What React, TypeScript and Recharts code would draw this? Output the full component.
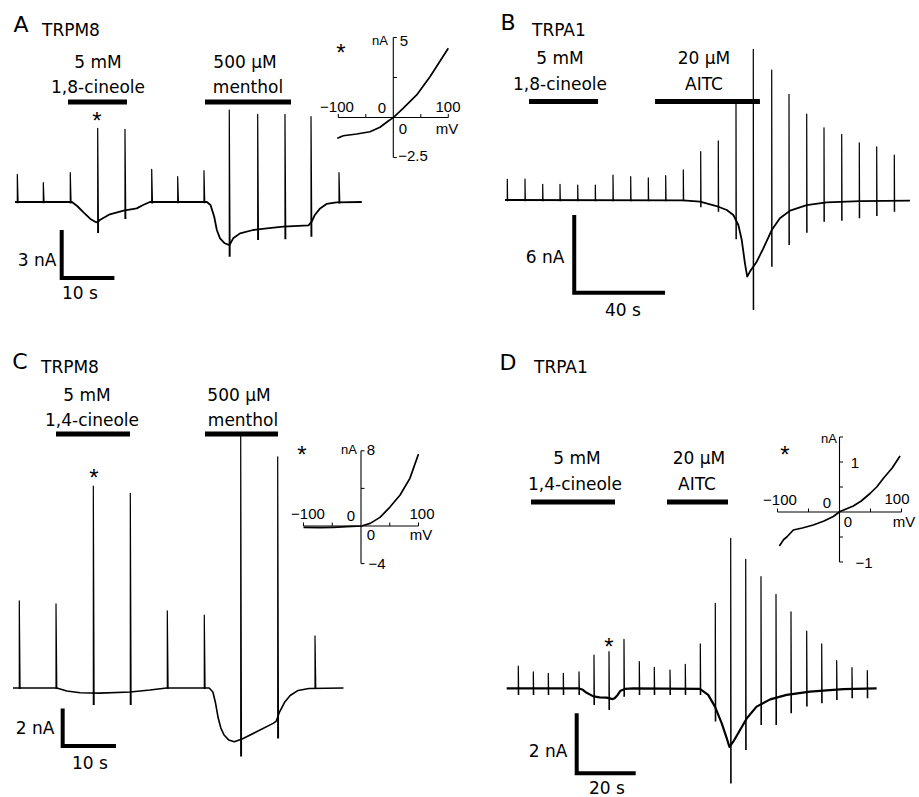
import { LineChart, Line, XAxis, YAxis } from 'recharts';

// ---------- data (time in s, current in nA, voltage in mV) ----------

// A: TRPM8, 1,8-cineole then menthol
const traceA: [number, number][] = [
  [0, 0], [10.8, 0], [11.8, -0.25], [13.0, -0.65], [14.3, -1.06], [15.3, -1.25], [15.7, -1.27],
  [16.1, -1.12], [18.0, -0.77], [20.6, -0.54], [23.1, -0.4], [24.3, -0.19], [25.6, 0],
  [36.4, 0], [37.1, -0.19], [37.8, -0.92], [38.3, -1.75], [38.9, -2.27], [39.8, -2.58], [40.7, -2.69],
  [41.4, -2.27], [42.7, -1.96], [45.2, -1.75], [47.8, -1.65], [50.9, -1.54], [55.7, -1.46],
  [56.3, -1.23], [56.9, -0.81], [57.9, -0.4], [59.1, -0.12], [61.0, -0.02], [65.8, 0],
];
const rampTimesA = [0.44, 5.37, 10.49, 15.69, 20.87, 25.94, 30.87, 35.86, 40.66, 46.05, 51.23, 56.17, 61.48];
const rampPeaksA = [1.73, 1.21, 1.83, 4.61, 4.54, 2.04, 1.58, 1.96, 5.75, 5.48, 5.48, 5.33, 1.83];
const rampTroughsA = [-0.08, -0.08, -0.1, -1.94, -1.06, -0.1, -0.08, -0.08, -3.42, -2.38, -2.33, -2.17, -0.1];
const ivA: [number, number][] = [
  [-101.8, -1.3], [-90.9, -1.14], [-66.5, -1.03], [-42.4, -0.89], [-24.2, -0.61], [-9.1, -0.22],
  [0, -0.01], [18.2, 0.58], [42.5, 1.41], [66.7, 2.55], [100, 4.33],
];

// B: TRPA1, 1,8-cineole then AITC
const traceB: [number, number][] = [
  [0, 0], [78.5, -0.03], [85.9, -0.13], [94.0, -0.52], [97.7, -0.77], [100.6, -1.16], [102.8, -1.93],
  [104.3, -3.09], [105.7, -4.89], [106.7, -5.92], [107.9, -5.53], [110.9, -4.76], [113.8, -3.73],
  [117.5, -2.32], [121.1, -1.41], [125.6, -0.82], [132.9, -0.39], [141.7, -0.18], [156.4, -0.08], [178.4, -0.05],
];
const rampTimesB = [1.01, 8.81, 16.61, 24.23, 32.03, 39.78, 47.58, 55.37, 63.13, 70.79, 78.55, 86.21,
  93.96, 101.76, 109.38, 117.49, 125.11, 132.91, 140.53, 148.33, 156.08, 163.74, 171.5];
const rampPeaksB = [1.6, 1.62, 1.21, 1.21, 1.16, 1.16, 1.93, 1.8, 1.72, 1.88, 2.32, 3.73,
  4.56, 7.61, 11.64, 10.04, 8.16, 6.64, 5.58, 5.07, 4.42, 4.11, 3.47];
const rampTroughsB = [-0.1, -0.1, -0.1, -0.1, -0.1, -0.1, -0.1, -0.1, -0.1, -0.1, -0.1, -0.56,
  -0.9, -3.03, -8.49, -5.15, -3.47, -2.53, -1.68, -1.6, -1.41, -1.24, -0.9];

// C: TRPM8, 1,4-cineole then menthol
const traceC: [number, number][] = [
  [0, 0], [8.2, 0], [10.1, -0.16], [12.6, -0.25], [16.3, -0.27], [22.0, -0.21], [25.7, -0.11], [28.8, 0],
  [36.8, 0], [37.5, -0.21], [38.0, -0.8], [38.5, -1.6], [39.0, -2.13], [39.6, -2.5], [40.5, -2.77],
  [41.5, -2.86], [43.0, -2.71], [45.6, -2.34], [48.8, -1.88], [49.4, -1.76], [50.0, -1.28], [51.0, -0.74],
  [52.0, -0.4], [53.5, -0.13], [55.5, -0.03], [62.0, 0],
];
const rampTimesC = [1.18, 8.07, 15.07, 22.01, 28.95, 35.89, 42.72, 49.66, 56.66];
const rampPeaksC = [4.64, 4.47, 10.74, 10.36, 4.11, 3.88, 13.55, 12.3, 2.77];
const rampTroughsC = [-0.05, -0.05, -0.9, -0.9, -0.05, -0.05, -3.65, -2.68, -0.05];
const ivC: [number, number][] = [
  [-100, -0.14], [-71, -0.18], [-48, -0.14], [-25, -0.07], [1, 0], [16, 0.28], [33, 0.92],
  [50, 1.99], [68, 3.3], [85, 5.07], [100, 7.66],
];

// D: TRPA1, 1,4-cineole then AITC
const traceD: [number, number][] = [
  [0, 0], [24.3, 0], [25.8, -0.05], [27.1, -0.15], [29.4, -0.27], [31.5, -0.3], [33.9, -0.31], [35.9, -0.36],
  [36.6, -0.33], [37.6, -0.22], [38.6, -0.08], [40.1, -0.02], [42.9, 0], [65.5, -0.02], [68.3, -0.22],
  [70.6, -0.61], [72.9, -1.17], [74.6, -1.67], [75.5, -1.95], [76.8, -1.78], [79.1, -1.39], [81.4, -1.0],
  [84.7, -0.61], [89.3, -0.37], [94.9, -0.22], [102.8, -0.11], [114.1, -0.03], [125.4, 0],
];
const rampTimesD = [3.93, 9.02, 14.1, 19.19, 24.51, 29.59, 34.68, 39.76, 44.95, 50.03, 55.36, 60.54,
  65.63, 70.71, 75.93, 81.02, 86.2, 91.29, 96.37, 101.69, 106.78, 111.86, 117.05, 122.24];
const rampPeaksD = [0.74, 0.55, 0.5, 0.5, 0.55, 1.11, 1.22, 1.63, 0.89, 0.7, 0.61, 0.8,
  1.48, 2.83, 5.0, 4.3, 3.72, 3.13, 2.55, 1.91, 1.48, 0.92, 0.69, 0.59];
const rampTroughsD = [-0.22, -0.22, -0.22, -0.22, -0.22, -0.56, -0.72, -0.28, -0.22, -0.22, -0.22, -0.22,
  -0.22, -1.11, -3.17, -2.06, -1.22, -1.22, -0.83, -0.61, -0.5, -0.39, -0.33, -0.33];
const ivD: [number, number][] = [
  [-97, -0.68], [-90, -0.55], [-85, -0.5], [-74.5, -0.36], [-60, -0.32], [-42.3, -0.26], [-25, -0.18],
  [-10, -0.09], [0.8, 0.01], [22.3, 0.12], [35, 0.22], [49.2, 0.37], [60, 0.5], [70.6, 0.67], [85, 0.88], [97.6, 1.12],
];

// drug applications [start s, end s]
const appsA: [number, number][] = [[10.06, 21.25], [36.05, 52.37]];
const appsB: [number, number][] = [[10.6, 41.0], [66.1, 112.3]];
const appsC: [number, number][] = [[8.07, 21.95], [36.02, 49.72]];
const appsD: [number, number][] = [[8.24, 36.71], [54.34, 75.02]];

// voltage ramp duration, s
const RAMP_S = 0.15;

// ---------- layout ----------
const FONT = '"DejaVu Sans", sans-serif';
const NUM_FONT = '"Liberation Sans", Arial, sans-serif';

type Pt = { x: number; y: number | null };
type Geo = { left: number; top: number; width: number; height: number; ox: number; kx: number; oy: number; ky: number };
type Series = { data: Pt[]; w: number; join?: 'miter' | 'round' };

const geoA: Geo = { left: 0, top: 0, width: 460, height: 320, ox: 15, kx: 5.27, oy: 202, ky: 16 };
const geoB: Geo = { left: 460, top: 0, width: 459, height: 330, ox: 505, kx: 2.27, oy: 200, ky: 12.95 };
const geoC: Geo = { left: 0, top: 330, width: 460, height: 467, ox: 13, kx: 5.33, oy: 688, ky: 18.8 };
const geoD: Geo = { left: 460, top: 330, width: 459, height: 467, ox: 506.7, kx: 2.95, oy: 688.3, ky: 30 };

const insetA: Geo = { left: 325, top: 25, width: 135, height: 145, ox: 393.3, kx: 0.55, oy: 117.5, ky: 16 };
const insetC: Geo = { left: 290, top: 440, width: 150, height: 130, ox: 361, kx: 0.575, oy: 526, ky: 9.4 };
const insetD: Geo = { left: 770, top: 425, width: 149, height: 145, ox: 839.5, kx: 0.62, oy: 512, ky: 50 };

const pts = (arr: [number, number][]): Pt[] => arr.map(([x, y]) => ({ x, y }));

// each ramp: jump to the peak, then run down to the trough
const ramps = (t: number[], hi: number[], lo: number[]): Pt[] =>
  t.flatMap((x, i) => [{ x, y: lo[i] }, { x, y: hi[i] }, { x: x + RAMP_S, y: lo[i] }, { x: x + RAMP_S, y: null }]);

const appBars = (apps: [number, number][], level: number): Pt[] =>
  apps.flatMap(([s, e]) => [{ x: s, y: level }, { x: e, y: level }, { x: e, y: null }]);

const scaleBar = (x0: number, y0: number, amp: number, dur: number): Pt[] => [
  { x: x0, y: y0 + amp }, { x: x0, y: y0 }, { x: x0 + dur, y: y0 },
];

function Plot({ g, series }: { g: Geo; series: Series[] }) {
  const dx: [number, number] = [(g.left - g.ox) / g.kx, (g.left + g.width - g.ox) / g.kx];
  const dy: [number, number] = [(g.oy - g.top - g.height) / g.ky, (g.oy - g.top) / g.ky];
  return (
    <div style={{ position: 'absolute', left: g.left, top: g.top }}>
      <LineChart width={g.width} height={g.height} margin={{ top: 0, right: 0, bottom: 0, left: 0 }}>
        <XAxis type="number" dataKey="x" domain={dx} hide allowDataOverflow />
        <YAxis type="number" domain={dy} hide allowDataOverflow />
        {series.map((s, i) => (
          <Line
            key={i}
            data={s.data}
            dataKey="y"
            type="linear"
            stroke="#000"
            strokeWidth={s.w}
            strokeLinejoin={s.join ?? 'round'}
            strokeLinecap="butt"
            dot={false}
            activeDot={false}
            isAnimationActive={false}
          />
        ))}
      </LineChart>
    </div>
  );
}

function Inset({ g, iv, yMin, yMax, yTicks }: { g: Geo; iv: [number, number][]; yMin: number; yMax: number; yTicks: number[] }) {
  const tx = 3.5 / g.kx;
  const ty = 3.5 / g.ky;
  const ticks: Pt[] = [
    ...[-100, -50, 50, 100].flatMap((v) => [{ x: v, y: 0 }, { x: v, y: ty }, { x: v, y: null }]),
    ...yTicks.flatMap((v) => [{ x: 0, y: v }, { x: tx, y: v }, { x: tx, y: null }]),
  ];
  return (
    <Plot
      g={g}
      series={[
        { data: [{ x: -100, y: 0 }, { x: 100, y: 0 }], w: 1.1 },
        { data: [{ x: 0, y: yMin }, { x: 0, y: yMax }], w: 1.1 },
        { data: ticks, w: 1 },
        { data: pts(iv), w: 1.7 },
      ]}
    />
  );
}

function T({ x, y, s, children, left, num }: { x: number; y: number; s: number; children: string; left?: boolean; num?: boolean }) {
  return (
    <div
      style={{
        position: 'absolute',
        left: x,
        top: y,
        transform: left ? 'translate(0,-50%)' : 'translate(-50%,-50%)',
        fontSize: s,
        fontFamily: num ? NUM_FONT : FONT,
        lineHeight: 1,
        whiteSpace: 'nowrap',
        color: '#000',
      }}
    >
      {children}
    </div>
  );
}

export default function App() {
  return (
    <div style={{ position: 'absolute', left: 0, top: 0, width: 919, height: 797, background: '#fff', overflow: 'hidden' }}>
      {/* A */}
      <Plot
        g={geoA}
        series={[
          { data: pts(traceA), w: 1.8 },
          { data: ramps(rampTimesA, rampPeaksA, rampTroughsA), w: 1.2 },
          { data: appBars(appsA, 6.25), w: 5 },
          { data: scaleBar(8.86, -4.75, 3, 10), w: 4, join: 'miter' },
        ]}
      />
      <Inset g={insetA} iv={ivA} yMin={-2.5} yMax={5} yTicks={[-2.5, 2.5, 5]} />
      <T x={21} y={25} s={22}>A</T>
      <T x={42} y={30} s={17} left>TRPM8</T>
      <T x={98} y={62} s={17}>5 mM</T>
      <T x={98} y={87} s={17}>1,8-cineole</T>
      <T x={245} y={62} s={17}>500 μM</T>
      <T x={248} y={87} s={17}>menthol</T>
      <T x={97} y={121} s={24} num>*</T>
      <T x={37} y={260} s={17}>3 nA</T>
      <T x={80} y={293} s={17}>10 s</T>
      <T x={341} y={53} s={24} num>*</T>
      <T x={380} y={40} s={13} num>nA</T>
      <T x={404} y={40} s={15} num>5</T>
      <T x={337} y={106} s={15} num>−100</T>
      <T x={382} y={107} s={15} num>0</T>
      <T x={448} y={106} s={15} num>100</T>
      <T x={403} y={128} s={15} num>0</T>
      <T x={447} y={128} s={15} num>mV</T>
      <T x={413} y={155} s={15} num>−2.5</T>

      {/* B */}
      <Plot
        g={geoB}
        series={[
          { data: pts(traceB), w: 1.8 },
          { data: ramps(rampTimesB, rampPeaksB, rampTroughsB), w: 1.2 },
          { data: appBars(appsB, 7.6), w: 5 },
          { data: scaleBar(30.5, -7.16, 6, 40), w: 4, join: 'miter' },
        ]}
      />
      <T x={508} y={23} s={22}>B</T>
      <T x={532} y={30} s={17} left>TRPA1</T>
      <T x={560} y={58} s={17}>5 mM</T>
      <T x={560} y={84} s={17}>1,8-cineole</T>
      <T x={704} y={58} s={17}>20 μM</T>
      <T x={704} y={84} s={17}>AITC</T>
      <T x={545} y={257} s={17}>6 nA</T>
      <T x={623} y={310} s={17}>40 s</T>

      {/* C */}
      <Plot
        g={geoC}
        series={[
          { data: pts(traceC), w: 1.6 },
          { data: ramps(rampTimesC, rampPeaksC, rampTroughsC), w: 1.2 },
          { data: appBars(appsC, 13.51), w: 5 },
          { data: scaleBar(9.32, -3.09, 2, 10), w: 4, join: 'miter' },
        ]}
      />
      <Inset g={insetC} iv={ivC} yMin={-4} yMax={8} yTicks={[-4, 4, 8]} />
      <T x={20} y={362} s={22}>C</T>
      <T x={41} y={367} s={17} left>TRPM8</T>
      <T x={87} y={395} s={17}>5 mM</T>
      <T x={92} y={420} s={17}>1,4-cineole</T>
      <T x={239} y={395} s={17}>500 μM</T>
      <T x={243} y={420} s={17}>menthol</T>
      <T x={94} y={478} s={24} num>*</T>
      <T x={35} y={728} s={17}>2 nA</T>
      <T x={90} y={763} s={17}>10 s</T>
      <T x={302} y={455} s={24} num>*</T>
      <T x={349} y={449} s={13} num>nA</T>
      <T x={371} y={449} s={15} num>8</T>
      <T x={308} y={513} s={15} num>−100</T>
      <T x={351} y={515} s={15} num>0</T>
      <T x={422} y={513} s={15} num>100</T>
      <T x={371} y={534} s={15} num>0</T>
      <T x={421} y={534} s={15} num>mV</T>
      <T x={377} y={563} s={15} num>−4</T>

      {/* D */}
      <Plot
        g={geoD}
        series={[
          { data: pts(traceD), w: 2.2 },
          { data: ramps(rampTimesD, rampPeaksD, rampTroughsD), w: 1.2 },
          { data: appBars(appsD, 6.21), w: 5 },
          { data: scaleBar(23.73, -2.83, 2, 20), w: 4, join: 'miter' },
        ]}
      />
      <Inset g={insetD} iv={ivD} yMin={-1} yMax={1.5} yTicks={[-1, -0.5, 0.5, 1, 1.5]} />
      <T x={508} y={363} s={22}>D</T>
      <T x={534} y={367} s={17} left>TRPA1</T>
      <T x={577} y={458} s={17}>5 mM</T>
      <T x={575} y={484} s={17}>1,4-cineole</T>
      <T x={699} y={458} s={17}>20 μM</T>
      <T x={697} y={484} s={17}>AITC</T>
      <T x={609} y={647} s={24} num>*</T>
      <T x={548} y={751} s={17}>2 nA</T>
      <T x={607} y={788} s={17}>20 s</T>
      <T x={785} y={455} s={24} num>*</T>
      <T x={829} y={438} s={13} num>nA</T>
      <T x={855} y={462} s={15} num>1</T>
      <T x={780} y={499} s={15} num>−100</T>
      <T x={827} y={502} s={15} num>0</T>
      <T x={897} y={498} s={15} num>100</T>
      <T x={848} y={521} s={15} num>0</T>
      <T x={904} y={521} s={15} num>mV</T>
      <T x={864} y={562} s={15} num>−1</T>
    </div>
  );
}
